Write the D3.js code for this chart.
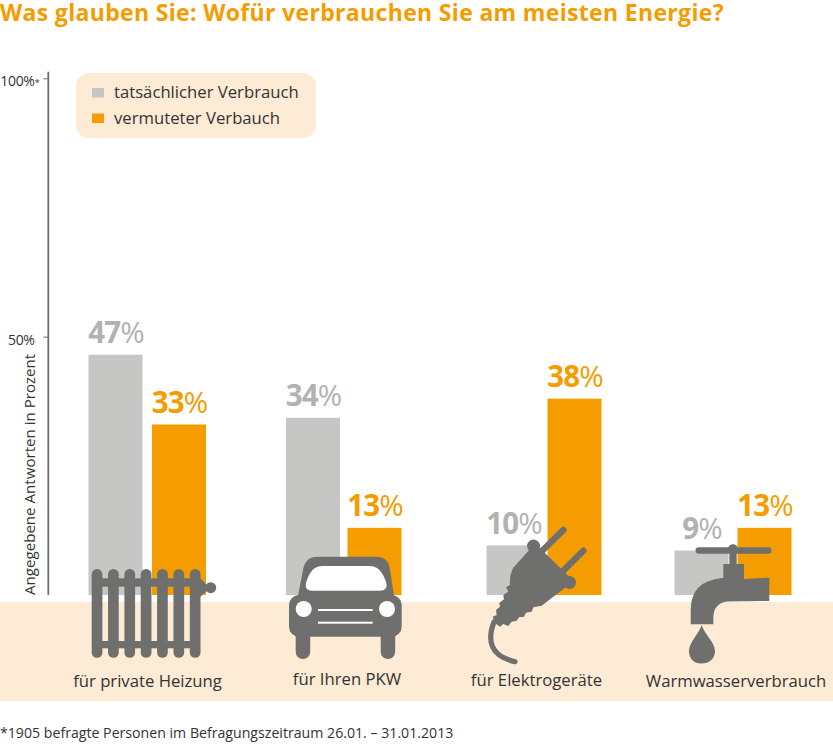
<!DOCTYPE html>
<html>
<head>
<meta charset="utf-8">
<script src="https://cdn.jsdelivr.net/npm/d3@7"></script>
<style>
  html, body { margin: 0; padding: 0; background: #fff; }
  svg { display: block; font-family: "Open Sans", sans-serif; }
</style>
</head>
<body>
<svg width="833" height="744"></svg>
<script>
// Data (bar heights, the labels show them rounded)
const categories = ["für private Heizung", "für Ihren PKW", "für Elektrogeräte", "Warmwasserverbrauch"];
const actual = [46.5, 34.3, 9.6, 8.6];
const assumed = [33, 13, 38, 13];
const legendLabels = ["tatsächlicher Verbrauch", "vermuteter Verbauch"];
const axisTicks = [50, 100];

const GREY = "#c6c6c5";
const ORANGE = "#f59c00";
const ICON = "#6f6f6e";
const SAND = "#fdebd5";
const TEXT = "#333333";

const svg = d3.select("svg");

// Scales (the groups are not evenly spaced in the original)
const y = d3.scaleLinear().domain([0, 100]).range([595, 78.3]);
const xActual = d3.scaleOrdinal().domain(categories).range([88.5, 286, 486.5, 674.5]);
const xAssumed = d3.scaleOrdinal().domain(categories).range([152, 347.5, 547.5, 737.5]);
const xLabel = d3.scaleOrdinal().domain(categories).range([147.5, 347, 536.5, 736]);
const yLabel = d3.scaleOrdinal().domain(categories).range([686.7, 685, 685.7, 686.7]);
const barWidth = 54;

// Title
svg.append("text")
  .attr("x", 0).attr("y", 20.5)
  .attr("font-size", 23).attr("font-weight", 700)
  .attr("letter-spacing", 0.33)
  .attr("fill", ORANGE)
  .text("Was glauben Sie: Wofür verbrauchen Sie am meisten Energie?");

// Sand band behind the icons
svg.append("rect")
  .attr("x", 0).attr("y", 602).attr("width", 833).attr("height", 99)
  .attr("fill", SAND);

// Axis
const axis = d3.axisLeft(y)
  .tickValues(axisTicks)
  .tickSize(5)
  .tickPadding(9)
  .tickFormat((d) => d + "%");

const axisG = svg.append("g")
  .attr("transform", "translate(48.3,0)")
  .call(axis);
axisG.select(".domain").remove();
axisG.append("line")
  .attr("y1", 71.7).attr("y2", 595)
  .attr("stroke", ICON).attr("stroke-width", 1.8);
axisG.selectAll(".tick line").attr("stroke", ICON);
axisG.selectAll(".tick text")
  .attr("font-family", '"Open Sans", sans-serif')
  .attr("font-size", 14).attr("fill", TEXT)
  .attr("letter-spacing", -0.3)
  .attr("x", (d) => (d === 100 ? -9 : -13.7))
  .attr("dy", "0.65em")
  .attr("y", -1.5);
// the 100% tick carries the footnote star
axisG.selectAll(".tick text")
  .filter((d) => d === 100)
  .append("tspan")
  .attr("font-size", 9)
  .text("*");

svg.append("text")
  .attr("transform", "translate(35,595) rotate(-90)")
  .attr("font-size", 15.1).attr("fill", TEXT)
  .text("Angegebene Antworten in Prozent");

// Legend
svg.append("rect")
  .attr("x", 76).attr("y", 73).attr("width", 240).attr("height", 65).attr("rx", 13)
  .attr("fill", SAND);
const legend = svg.selectAll(".legend-item")
  .data(legendLabels)
  .enter().append("g")
  .attr("class", "legend-item")
  .attr("transform", (d, i) => `translate(92,${88 + i * 25.5})`);
legend.append("rect")
  .attr("width", 12).attr("height", 9.5)
  .attr("fill", (d, i) => (i === 0 ? GREY : ORANGE));
legend.append("text")
  .attr("x", 22).attr("y", 10)
  .attr("font-size", 16.7).attr("fill", TEXT)
  .text((d) => d);

// Bars
const series = [
  { values: actual, x: xActual, fill: GREY, labelFill: "#b2b2b2" },
  { values: assumed, x: xAssumed, fill: ORANGE, labelFill: ORANGE },
];

series.forEach((s) => {
  svg.append("g").selectAll("rect")
    .data(categories)
    .enter().append("rect")
    .attr("x", (d) => s.x(d))
    .attr("y", (d, i) => y(s.values[i]))
    .attr("width", barWidth)
    .attr("height", (d, i) => y(0) - y(s.values[i]))
    .attr("fill", s.fill);

  const labels = svg.append("g").selectAll("text")
    .data(categories)
    .enter().append("text")
    .attr("x", (d) => s.x(d) + barWidth / 2 + 0.5)
    .attr("y", (d, i) => y(s.values[i]) - 11.5)
    .attr("text-anchor", "middle")
    .attr("font-size", 29.5)
    .attr("letter-spacing", -0.8)
    .attr("fill", s.labelFill);
  labels.append("tspan")
    .attr("font-weight", 700)
    .text((d, i) => d3.format(".0f")(s.values[i]));
  labels.append("tspan").text("%");
});

// Icons
const icons = svg.append("g").attr("fill", ICON).attr("stroke", "none");

// radiator
const radiator = icons.append("g");
d3.range(7).forEach((i) => {
  radiator.append("rect")
    .attr("x", 91.7 + i * 16.35).attr("y", 569)
    .attr("width", 10.7).attr("height", 88.7).attr("rx", 5.3);
});
radiator.append("rect").attr("x", 95).attr("y", 578.3).attr("width", 105).attr("height", 8.4);
radiator.append("rect").attr("x", 95).attr("y", 641).attr("width", 105).attr("height", 7.3);
radiator.append("path").attr("d", "M200,578 L208,586 L208,590 L200,597 Z");
radiator.append("circle").attr("cx", 210.7).attr("cy", 587.7).attr("r", 5.5);

// car
const car = icons.append("g");
car.append("path")
  .attr("d", "M298,596 L303,570 Q305,556.7 318,556.7 L375,556.7 Q389,556.7 390,570 L394,596 Z");
car.append("rect").attr("x", 289).attr("y", 595).attr("width", 112.7).attr("height", 41.7).attr("rx", 10);
car.append("rect").attr("x", 295.7).attr("y", 625).attr("width", 14.5).attr("height", 34).attr("rx", 7.2);
car.append("rect").attr("x", 380.7).attr("y", 625).attr("width", 14.5).attr("height", 34).attr("rx", 7.2);
car.append("path")
  .attr("d", "M322,566 L370,566 C380,566 384,576 386.7,584 Q387,590.7 380,590.7 L312,590.7 Q305,590.7 305.7,584 C308,576 312,566 322,566 Z")
  .attr("fill", "#fff");
car.append("circle").attr("cx", 303.7).attr("cy", 609).attr("r", 8).attr("fill", "#fff");
car.append("circle").attr("cx", 387).attr("cy", 609).attr("r", 8).attr("fill", "#fff");
car.append("rect").attr("x", 318).attr("y", 609).attr("width", 54.7).attr("height", 2).attr("fill", "#fff");
car.append("rect").attr("x", 318).attr("y", 621.7).attr("width", 54.7).attr("height", 2).attr("fill", "#fff");

// plug
const plug = icons.append("g");
plug.append("path")
  .attr("d", "M563.3,530 L540,553 M583.3,550.7 L560.5,573.5 M534,546.7 L570,582")
  .attr("fill", "none").attr("stroke", ICON).attr("stroke-width", 6.5).attr("stroke-linecap", "round");
plug.append("circle").attr("cx", 533.5).attr("cy", 546).attr("r", 6.5);
plug.append("circle").attr("cx", 569.5).attr("cy", 582.5).attr("r", 6.5);
plug.append("path")
  .attr("d", "M531,548 L513,568 Q509,576 510,585 L506,587.3 L508.3,591.7 L503.3,595 L504,599.3 L499.3,602.7 L500,606.7 L496,610 L496.7,615 L492.7,616.7 L495,623.3 L500,626.7 L503.3,624 L508.3,626 L511.7,621.7 L516.7,620.7 L519,617.3 L524,616.7 L526,612.7 L531.7,611.7 L533.3,607.3 L541.7,605.7 L553,597 L570,584 Z");
plug.append("path")
  .attr("d", "M494,622 C487,640 490,656 515,661.7")
  .attr("fill", "none").attr("stroke", ICON).attr("stroke-width", 5.2).attr("stroke-linecap", "round");

// tap
const tap = icons.append("g");
tap.append("rect").attr("x", 695.5).attr("y", 547.3).attr("width", 76).attr("height", 6.5).attr("rx", 3.2);
tap.append("circle").attr("cx", 733).attr("cy", 549).attr("r", 4.8);
tap.append("rect").attr("x", 729.3).attr("y", 550).attr("width", 7.4).attr("height", 16);
tap.append("rect").attr("x", 723.3).attr("y", 564).attr("width", 20.7).attr("height", 15);
tap.append("path")
  .attr("d", "M743.3,579 L769.3,577.7 L769.3,601 L728,601.5 Q713.3,603 713.3,618 L713.3,624.3 L690.7,624.3 L690.7,610 Q690.7,581 722,578 Z");
tap.append("path")
  .attr("d", "M701.7,625 C704,634 715,642 715,651 C715,659 709,663.5 701.7,663.5 C694,663.5 689,659 689,651 C689,642 699,634 701.7,625 Z");

// Category labels
svg.append("g").selectAll("text")
  .data(categories)
  .enter().append("text")
  .attr("x", (d) => xLabel(d))
  .attr("y", (d) => yLabel(d))
  .attr("text-anchor", "middle")
  .attr("font-size", 16.7).attr("fill", TEXT)
  .text((d) => d);

// Footnote
svg.append("text")
  .attr("x", 0).attr("y", 738.3)
  .attr("font-size", 14.15).attr("fill", TEXT)
  .text("*1905 befragte Personen im Befragungszeitraum 26.01. – 31.01.2013");
</script>
</body>
</html>
